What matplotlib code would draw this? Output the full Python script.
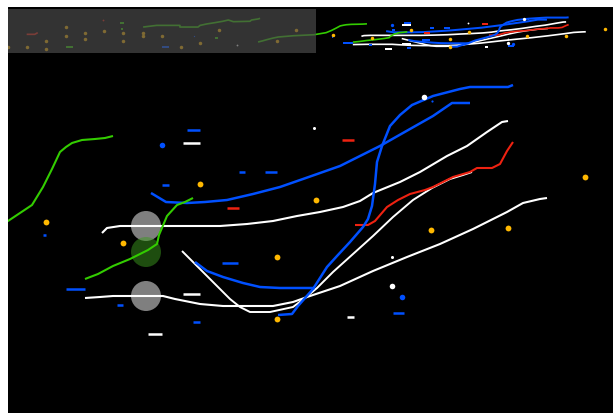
import matplotlib
matplotlib.use("Agg")
import matplotlib.pyplot as plt
from matplotlib.patches import Circle, Rectangle

# ---------------- data (world coordinates: x to the right, y downwards) ----------------
green1_x = [-103, -93, -86, -73, -63, -33, 8, 20, 32, 43, 52, 60, 66, 72, 82, 95, 105, 113]
green1_y = [279, 269, 261, 248, 240, 230, 222, 214, 206, 188, 170, 153, 148, 144, 141, 140, 139, 137]

green2_x = [85, 98, 113, 130, 148, 157, 159, 167, 177, 185, 193]
green2_y = [280, 275, 267, 260, 251, 245, 236, 217, 206, 203, 199]

green3_x = [-331, -304, -258, -258, -222, -218, -205, -189, -173, -162, -152, -119, -116, -103, -99]
green3_y = [162, 149, 149, 162, 162, 149, 138, 128, 117, 107, 120, 117, 107, 99, 94]

blue1_x = [151, 166, 187, 205, 227, 253, 280, 303, 340, 380, 410, 433, 452, 470]
blue1_y = [194, 203, 204, 203, 201, 195, 188, 180, 167, 147, 130, 117, 104, 104]

blue2_x = [278, 292, 298, 313, 327, 337, 350, 363, 368, 372, 375, 377, 382, 390, 400, 412, 433, 460, 470, 508, 513]
blue2_y = [316, 315, 307, 290, 268, 257, 243, 228, 220, 207, 185, 163, 147, 127, 116, 106, 97, 90, 88, 88, 86]

blue3_x = [195, 207, 223, 243, 260, 280, 315]
blue3_y = [263, 272, 278, 284, 288, 289, 289]

white1_x = [102, 107, 120, 160, 220, 247, 273, 297, 320, 343, 360, 373, 400, 420, 447, 467, 487, 502, 508]
white1_y = [234, 229, 227, 227, 227, 225, 222, 217, 213, 208, 202, 194, 183, 173, 157, 147, 133, 123, 122]

white2_x = [182, 197, 213, 230, 240, 250, 270, 293, 305, 317, 333, 353, 373, 393, 413, 432, 450, 463, 472]
white2_y = [252, 267, 283, 300, 308, 313, 313, 308, 299, 289, 273, 255, 237, 218, 201, 189, 180, 176, 173]

white3_x = [85, 100, 113, 163, 175, 200, 223, 273, 293, 310, 340, 373, 407, 440, 473, 507, 523, 540, 547]
white3_y = [299, 298, 297, 297, 300, 305, 307, 307, 303, 297, 287, 272, 258, 245, 230, 213, 204, 200, 199]

red1_x = [355, 368, 375, 387, 398, 410, 425, 433, 453, 470, 477, 492, 500, 507, 513]
red1_y = [226, 226, 222, 208, 201, 195, 191, 188, 178, 173, 169, 169, 165, 152, 143]

red0_x = [-562, -546, -540]
red0_y = [219, 219, 206]

# short horizontal segments: start x, end x, y
blue_dash_x0 = [187, 162, 239, 265, 43, 222, 66, 117, 193, 393, -294]
blue_dash_x1 = [200, 169, 245, 277, 46, 238, 85, 123, 200, 404, -280]
blue_dash_y = [131, 186, 173, 173, 236, 264, 290, 306, 323, 314, 318]

white_dash_x0 = [183, 183, 148, 347]
white_dash_x1 = [200, 200, 162, 354]
white_dash_y = [144, 295, 335, 318]

red_dash_x0 = [227, 342]
red_dash_x1 = [239, 354]
red_dash_y = [209, 141]

green_dash_x0 = [-484, -377, -375, -188]
green_dash_x1 = [-470, -369, -371, -182]
green_dash_y = [318, 130, 177, 248]

orange_x = [200, 46, 123, 277, 277, 316, 431, 508, 585,
            -484, -484, -447, -447, -409, -524, -524, -562, -599, -371, -371,
            -332, -332, -294, -256, -219, -181, -66, -28]
orange_y = [185, 223, 244, 258, 320, 201, 231, 229, 178,
            162, 232, 209, 256, 193, 271, 334, 318, 318, 209, 271,
            209, 232, 232, 318, 287, 185, 271, 185]

blue_dot_x = [162, 402]
blue_dot_y = [146, 298]
blue_tiny_x = [432, -230]
blue_tiny_y = [102, 232]

white_dot_x = [424, 392]
white_dot_y = [98, 287]
white_tiny_x = [314, 392, -145]
white_tiny_y = [129, 258, 302]

red_tiny_x = [-411]
red_tiny_y = [107]

grey_circle_x = [146, 146]
grey_circle_y = [227, 297]
green_circle_x = [146]
green_circle_y = [253]
circle_r = 15

BLUE = '#0050ff'
WHITE = '#ffffff'
GREEN = '#33cc00'
RED = '#ee2211'
ORANGE = '#ffb800'


def draw(ax, s, sl):
    # lines
    for xs, ys, c, lw in [
        (white1_x, white1_y, WHITE, 1.5), (white2_x, white2_y, WHITE, 1.4),
        (white3_x, white3_y, WHITE, 1.5), (red1_x, red1_y, RED, 1.5),
        (red0_x, red0_y, RED, 1.5), (blue1_x, blue1_y, BLUE, 1.8),
        (blue2_x, blue2_y, BLUE, 1.8), (blue3_x, blue3_y, BLUE, 1.8),
        (green1_x, green1_y, GREEN, 1.5), (green2_x, green2_y, GREEN, 1.5),
        (green3_x, green3_y, GREEN, 1.5)]:
        ax.plot(xs, ys, color=c, lw=lw * sl, solid_capstyle='butt', zorder=3)
    for x0, x1, y, c in [(blue_dash_x0, blue_dash_x1, blue_dash_y, BLUE),
                         (white_dash_x0, white_dash_x1, white_dash_y, WHITE),
                         (red_dash_x0, red_dash_x1, red_dash_y, RED),
                         (green_dash_x0, green_dash_x1, green_dash_y, GREEN)]:
        ax.hlines(y, x0, x1, colors=c, lw=1.8 * sl, zorder=3)
    ax.scatter(orange_x, orange_y, s=(4.2 * s) ** 2, color=ORANGE, lw=0, zorder=4)
    ax.scatter(blue_dot_x, blue_dot_y, s=(4.0 * s) ** 2, color=BLUE, lw=0, zorder=4)
    ax.scatter(blue_tiny_x, blue_tiny_y, s=(1.6 * s) ** 2, color=BLUE, lw=0, zorder=4)
    ax.scatter(white_dot_x, white_dot_y, s=(4.0 * s) ** 2, color=WHITE, lw=0, zorder=4)
    ax.scatter(white_tiny_x, white_tiny_y, s=(2.2 * s) ** 2, color=WHITE, lw=0, zorder=4)
    ax.scatter(red_tiny_x, red_tiny_y, s=(2.2 * s) ** 2, color=RED, lw=0, zorder=4)


fig = plt.figure(figsize=(6.13, 4.14), dpi=100)
fig.patch.set_facecolor('white')

# main view
ax = fig.add_axes([8 / 613, 0, 605 / 613, 406 / 414])
ax.set_facecolor('black')
ax.set_xlim(8, 613)
ax.set_ylim(414, 8)
for cx, cy in zip(grey_circle_x, grey_circle_y):
    ax.add_patch(Circle((cx, cy), circle_r, color='white', alpha=0.5, lw=0, zorder=2))
for cx, cy in zip(green_circle_x, green_circle_y):
    ax.add_patch(Circle((cx, cy), circle_r, color='#3c9a1e', alpha=0.5, lw=0, zorder=2))
draw(ax, 1.0, 1.0)
ax.axis('off')
ax.add_patch(Rectangle((0, 0), 1, 1, transform=ax.transAxes, color='black', zorder=-5))

# overview strip at the top
mini = fig.add_axes([8 / 613, 1 - 54 / 414, 605 / 613, 44.5 / 414])
mini.set_xlim(-599, 601)
mini.set_ylim(365, 17)
mini.patch.set_alpha(0)
draw(mini, 0.6, 0.8)
mini.add_patch(Rectangle((-599, 17), 611, 348, facecolor='#494949', alpha=0.7, lw=0, zorder=10))
mini.axis('off')

fig.savefig('out.png', dpi=100, facecolor='white')
